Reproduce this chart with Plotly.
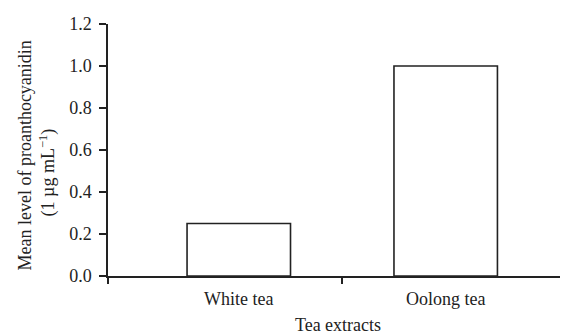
import plotly.graph_objects as go

categories = ["White tea", "Oolong tea"]
values = [0.25, 1.0]
y_ticks = [0.0, 0.2, 0.4, 0.6, 0.8, 1.0, 1.2]
x_title = "Tea extracts"
y_title_line1 = "Mean level of proanthocyanidin"
y_title_line2 = "(1 µg mL<sup>−1</sup>)"

FONT = "Liberation Serif, Times New Roman, serif"
INK = "#222222"
FS = 18
xpos = list(range(len(categories)))
xr = [-0.632, 1.591]

fig = go.Figure()
fig.add_trace(go.Bar(
    x=xpos, y=values, width=0.5,
    marker=dict(color="white", line=dict(color=INK, width=1.6)),
    showlegend=False, hoverinfo="skip",
))
# invisible trace to activate xaxis2 (tick marks between categories)
fig.add_trace(go.Scatter(x=[xr[0]], y=[0], xaxis="x2", mode="markers",
                         marker=dict(opacity=0), showlegend=False, hoverinfo="skip"))

# page body has an 8px margin, so the figure is sized 560x327
fig.update_layout(
    width=560, height=327,
    margin=dict(l=100, r=0, t=16, b=59, autoexpand=False),
    paper_bgcolor="white", plot_bgcolor="white",
    font=dict(family=FONT, size=FS, color=INK),
    xaxis=dict(
        range=xr, tickvals=xpos, ticktext=categories, ticks="",
        showline=True, linecolor=INK, linewidth=1.5, showgrid=False, zeroline=False,
        ticklabelstandoff=6,
        title=dict(text=x_title, standoff=10, font=dict(size=FS)),
    ),
    xaxis2=dict(
        range=xr, overlaying="x", anchor="y", side="bottom",
        tickvals=[xr[0], 0.5], ticks="outside", ticklen=7, tickwidth=1.5,
        tickcolor=INK, showticklabels=False, showgrid=False, zeroline=False,
        showline=False,
    ),
    yaxis=dict(
        range=[0, 1.2], tickvals=y_ticks, tickformat=".1f",
        ticks="outside", ticklen=7, tickwidth=1.5, tickcolor=INK,
        showline=True, linecolor=INK, linewidth=1.5, showgrid=False, zeroline=False,
        ticklabelstandoff=4,
    ),
    annotations=[
        dict(text=y_title_line1, xref="paper", yref="paper", x=-0.1804, y=0.478,
             xanchor="center", yanchor="middle", textangle=-90, showarrow=False,
             font=dict(size=FS)),
        dict(text=y_title_line2, xref="paper", yref="paper", x=-0.1304, y=0.411,
             xanchor="center", yanchor="middle", textangle=-90, showarrow=False,
             font=dict(size=FS)),
    ],
)

fig.write_html("out.html")
